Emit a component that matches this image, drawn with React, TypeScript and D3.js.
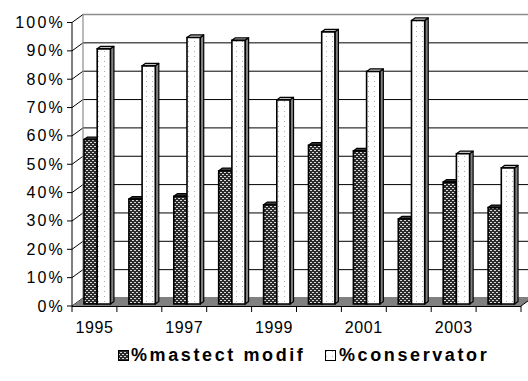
import React from 'react';
import * as d3 from 'd3';

// Yearly shares of the two surgery types
const years = ['1995', '1996', '1997', '1998', '1999', '2000', '2001', '2002', '2003', '2004'];
const xTickLabels = ['1995', '1997', '1999', '2001', '2003'];
const mastectModif = [58, 37, 38, 47, 35, 56, 54, 30, 43, 34];
const conservator = [90, 84, 94, 93, 72, 96, 82, 100, 53, 48];
const seriesNames = ['%mastect modif', '%conservator'];
const yTicks = [0, 10, 20, 30, 40, 50, 60, 70, 80, 90, 100];

const W = 528;
const H = 381;
// oblique depth of the 3D box
const DX = 11;
const DY = 8;
// depth range occupied by the columns (fraction of box depth)
const Z0 = 0.25;
const Z1 = 0.57;

const FONT = '"Liberation Sans", Arial, sans-serif';

export default function App() {
  const x = d3.scaleBand<string>().domain(years).range([72, 521]).paddingInner(0).paddingOuter(0);
  const inner = d3.scaleBand<string>().domain(seriesNames).range([0, x.bandwidth()]).paddingInner(0).paddingOuter(0.7);
  const y = d3.scaleLinear().domain([0, 100]).range([306, 22.5]);

  const proj = (px: number, v: number, z: number): [number, number] => [px + DX * z, y(v) - DY * z];
  const pts = (arr: [number, number][]) => arr.map((p) => p.join(',')).join(' ');

  const x0 = x.range()[0];
  const x1 = x.range()[1];

  const bar = (xb: number, v: number, w: number, kind: 'dk' | 'wt', key: string) => {
    const front = pts([proj(xb, 0, Z0), proj(xb + w, 0, Z0), proj(xb + w, v, Z0), proj(xb, v, Z0)]);
    const side = pts([proj(xb + w, 0, Z0), proj(xb + w, 0, Z1), proj(xb + w, v, Z1), proj(xb + w, v, Z0)]);
    const top = pts([proj(xb, v, Z0), proj(xb + w, v, Z0), proj(xb + w, v, Z1), proj(xb, v, Z1)]);
    const sideFill = kind === 'dk' ? '#2a2a2a' : '#808080';
    const topFill = kind === 'dk' ? '#3a3a3a' : '#c0c0c0';
    const frontFill = kind === 'dk' ? 'url(#patDark)' : 'url(#patLight)';
    return (
      <g key={key}>
        <polygon points={side} fill={sideFill} stroke="#000" strokeWidth={1.2} strokeLinejoin="round" />
        <polygon points={top} fill={topFill} stroke="#000" strokeWidth={1.2} strokeLinejoin="round" />
        <polygon points={front} fill={frontFill} stroke="#000" strokeWidth={1.6} />
      </g>
    );
  };

  return (
    <svg width={W} height={H} style={{ position: 'absolute', left: 0, top: 0, background: '#fff' }}>
      <defs>
        <pattern id="patDark" width={4} height={4} patternUnits="userSpaceOnUse">
          <rect width={4} height={4} fill="#2b2b2b" />
          <rect x={0} y={0} width={2} height={1} fill="#d8d8d8" />
          <rect x={2} y={2} width={2} height={1} fill="#d8d8d8" />
        </pattern>
        <pattern id="patLight" width={6} height={5} patternUnits="userSpaceOnUse">
          <rect width={6} height={5} fill="#fff" />
          <rect x={2} y={1} width={1} height={1} fill="#b0b0b0" />
        </pattern>
      </defs>

      {/* back wall */}
      <polygon points={pts([proj(x0, 0, 1), proj(x1, 0, 1), proj(x1, 100, 1), proj(x0, 100, 1)])} fill="#fff" />
      {yTicks.map((t) => {
        const [ax, ay] = proj(x0, t, 1);
        const [bx, by] = proj(x1, t, 1);
        return (
          <line key={'g' + t} x1={ax} y1={ay} x2={bx} y2={by}
            stroke={t === 100 ? '#8c8c8c' : '#000'} strokeWidth={t === 100 ? 1.6 : 1} />
        );
      })}
      {/* side wall grid */}
      {yTicks.map((t) => {
        const [ax, ay] = proj(x0, t, 0);
        const [bx, by] = proj(x0, t, 1);
        return <line key={'s' + t} x1={ax} y1={ay} x2={bx} y2={by} stroke="#000" strokeWidth={1} />;
      })}
      <line x1={proj(x0, 0, 1)[0]} y1={proj(x0, 0, 1)[1]} x2={proj(x0, 100, 1)[0]} y2={proj(x0, 100, 1)[1]}
        stroke="#8c8c8c" strokeWidth={1.2} />

      {/* floor */}
      <polygon points={pts([proj(x0, 0, 0), proj(x1, 0, 0), proj(x1, 0, 1), proj(x0, 0, 1)])} fill="#808080" />
      <line x1={proj(x1, 0, 0)[0]} y1={proj(x1, 0, 0)[1]} x2={proj(x1, 0, 1)[0]} y2={proj(x1, 0, 1)[1]}
        stroke="#000" strokeWidth={1} />

      {/* columns */}
      {years.map((yr, i) => {
        const bx = x(yr) as number;
        const w = inner.bandwidth();
        return (
          <g key={yr}>
            {bar(bx + (inner(seriesNames[0]) as number), mastectModif[i], w, 'dk', 'a')}
            {bar(bx + (inner(seriesNames[1]) as number), conservator[i], w, 'wt', 'b')}
          </g>
        );
      })}

      {/* axes */}
      <line x1={x0} y1={y(0)} x2={x0} y2={y(100)} stroke="#000" strokeWidth={1} />
      <line x1={x0} y1={y(0) + 0.5} x2={x1} y2={y(0) + 0.5} stroke="#000" strokeWidth={1} />
      {yTicks.map((t) => (
        <g key={'yt' + t}>
          <line x1={x0 - 5} y1={y(t)} x2={x0} y2={y(t)} stroke="#000" strokeWidth={1} />
          <text x={x0 - 7} y={y(t) + 5.5} textAnchor="end" fontFamily={FONT} fontSize={16} letterSpacing={2.2} fill="#000">
            {t + '%'}
          </text>
        </g>
      ))}
      {[...years, 'end'].map((yr, i) => {
        const px = i < years.length ? (x(yr) as number) : x1;
        return <line key={'xt' + i} x1={px} y1={y(0)} x2={px} y2={y(0) + 6} stroke="#000" strokeWidth={1} />;
      })}
      {xTickLabels.map((lbl) => (
        <text key={'xl' + lbl} x={(x(lbl) as number) + x.bandwidth() / 2} y={333} textAnchor="middle"
          fontFamily={FONT} fontSize={16} letterSpacing={0.6} fill="#000">
          {lbl}
        </text>
      ))}

      {/* legend */}
      <g fontFamily={FONT} fontSize={18} fontWeight="bold" fill="#000">
        <rect x={118.5} y={350.5} width={10} height={10} fill="url(#patDark)" stroke="#000" strokeWidth={1} />
        <text x={131} y={361} letterSpacing={2.6}>{seriesNames[0]}</text>
        <rect x={325.5} y={350.5} width={10} height={10} fill="url(#patLight)" stroke="#000" strokeWidth={1} />
        <text x={339} y={361} letterSpacing={2.6}>{seriesNames[1]}</text>
      </g>
    </svg>
  );
}
